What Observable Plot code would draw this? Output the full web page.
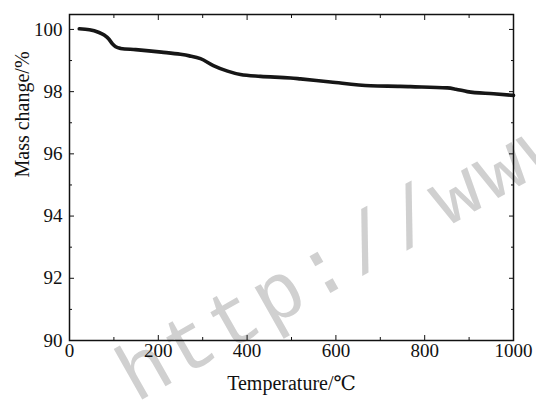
<!DOCTYPE html>
<html>
<head>
<meta charset="utf-8">
<script src="https://cdn.jsdelivr.net/npm/d3@7"></script>
<script src="https://cdn.jsdelivr.net/npm/@observablehq/plot@0.6"></script>
<style>
  html, body { margin: 0; padding: 0; background: #fff; }
  #chart { position: relative; width: 536px; height: 401px; }
  #chart svg { position: absolute; left: 0; top: 0; }
</style>
</head>
<body>
<div id="chart"></div>
<script>
const temperature = [22, 45, 65, 78, 88, 97, 104, 115, 149, 207, 250, 270, 295, 324, 356, 385, 430, 498, 520, 588, 678, 745, 768, 851, 870, 896, 955, 1000];
const massChange  = [100.02, 99.99, 99.91, 99.82, 99.70, 99.53, 99.44, 99.39, 99.35, 99.27, 99.20, 99.15, 99.06, 98.84, 98.66, 98.55, 98.49, 98.44, 98.41, 98.31, 98.19, 98.17, 98.16, 98.12, 98.08, 98.00, 97.93, 97.88];
const xMajor = [0, 200, 400, 600, 800, 1000];
const xMinor = [100, 300, 500, 700, 900];
const yMajor = [90, 92, 94, 96, 98, 100];
const yMinor = [91, 93, 95, 97, 99];
const xLabel = "Temperature/℃";
const yLabel = "Mass change/%";
const watermark = "http://www";

const data = temperature.map((t, i) => ({t, m: massChange[i]}));
const serif = "Liberation Serif, DejaVu Serif, Times New Roman, serif";

const chart = Plot.plot({
  width: 536,
  height: 401,
  marginLeft: 69,
  marginRight: 23,
  marginTop: 14,
  marginBottom: 61,
  style: {fontSize: "19px", fontFamily: serif, color: "#111", background: "transparent"},
  x: {domain: [0, 1000]},
  y: {domain: [90, 100.48]},
  marks: [
    Plot.line(data, {x: "t", y: "m", stroke: "#161616", strokeWidth: 3.6, curve: "monotone-x"}),
    Plot.axisX({ticks: xMajor, tickSize: 0, tickPadding: 3, tickFormat: d => String(d), label: null, fontSize: 19}),
    Plot.axisX({ticks: xMajor, tickSize: -5, tickFormat: () => "", label: null}),
    Plot.axisX({ticks: xMinor, tickSize: -3, tickFormat: () => "", label: null}),
    Plot.axisX({anchor: "top", ticks: xMajor, tickSize: -5, tickFormat: () => "", label: null}),
    Plot.axisX({anchor: "top", ticks: xMinor, tickSize: -3, tickFormat: () => "", label: null}),
    Plot.axisY({ticks: yMajor, tickSize: 0, tickPadding: 7, tickFormat: d => String(d), label: null, fontSize: 19}),
    Plot.axisY({ticks: yMajor, tickSize: -5, tickFormat: () => "", label: null}),
    Plot.axisY({ticks: yMinor, tickSize: -3, tickFormat: () => "", label: null}),
    Plot.axisY({anchor: "right", ticks: yMajor, tickSize: -5, tickFormat: () => "", label: null}),
    Plot.axisY({anchor: "right", ticks: yMinor, tickSize: -3, tickFormat: () => "", label: null}),
    Plot.frame({stroke: "#111", strokeWidth: 1.5}),
    Plot.text([xLabel], {frameAnchor: "bottom", dy: 49, fontSize: 20, fill: "#111"}),
    Plot.text([yLabel], {frameAnchor: "left", dx: -47, rotate: -90, fontSize: 20, fill: "#111"})
  ]
});
document.getElementById("chart").appendChild(chart);

const svg = d3.select(chart);
svg.style("font-family", serif, "important");
svg.selectAll("g, text, tspan").style("font-family", serif, "important");

// light watermark, placed behind the chart marks
svg.insert("text", ":first-child")
  .attr("x", 136).attr("y", 403)
  .attr("transform", "rotate(-29.5 136 403)")
  .attr("font-size", 80)
  .attr("fill", "#d0d0d0")
  .style("letter-spacing", "3px")
  .style("font-family", "Liberation Mono, Courier New, monospace", "important")
  .style("text-anchor", "start", "important")
  .text(watermark);
</script>
</body>
</html>
